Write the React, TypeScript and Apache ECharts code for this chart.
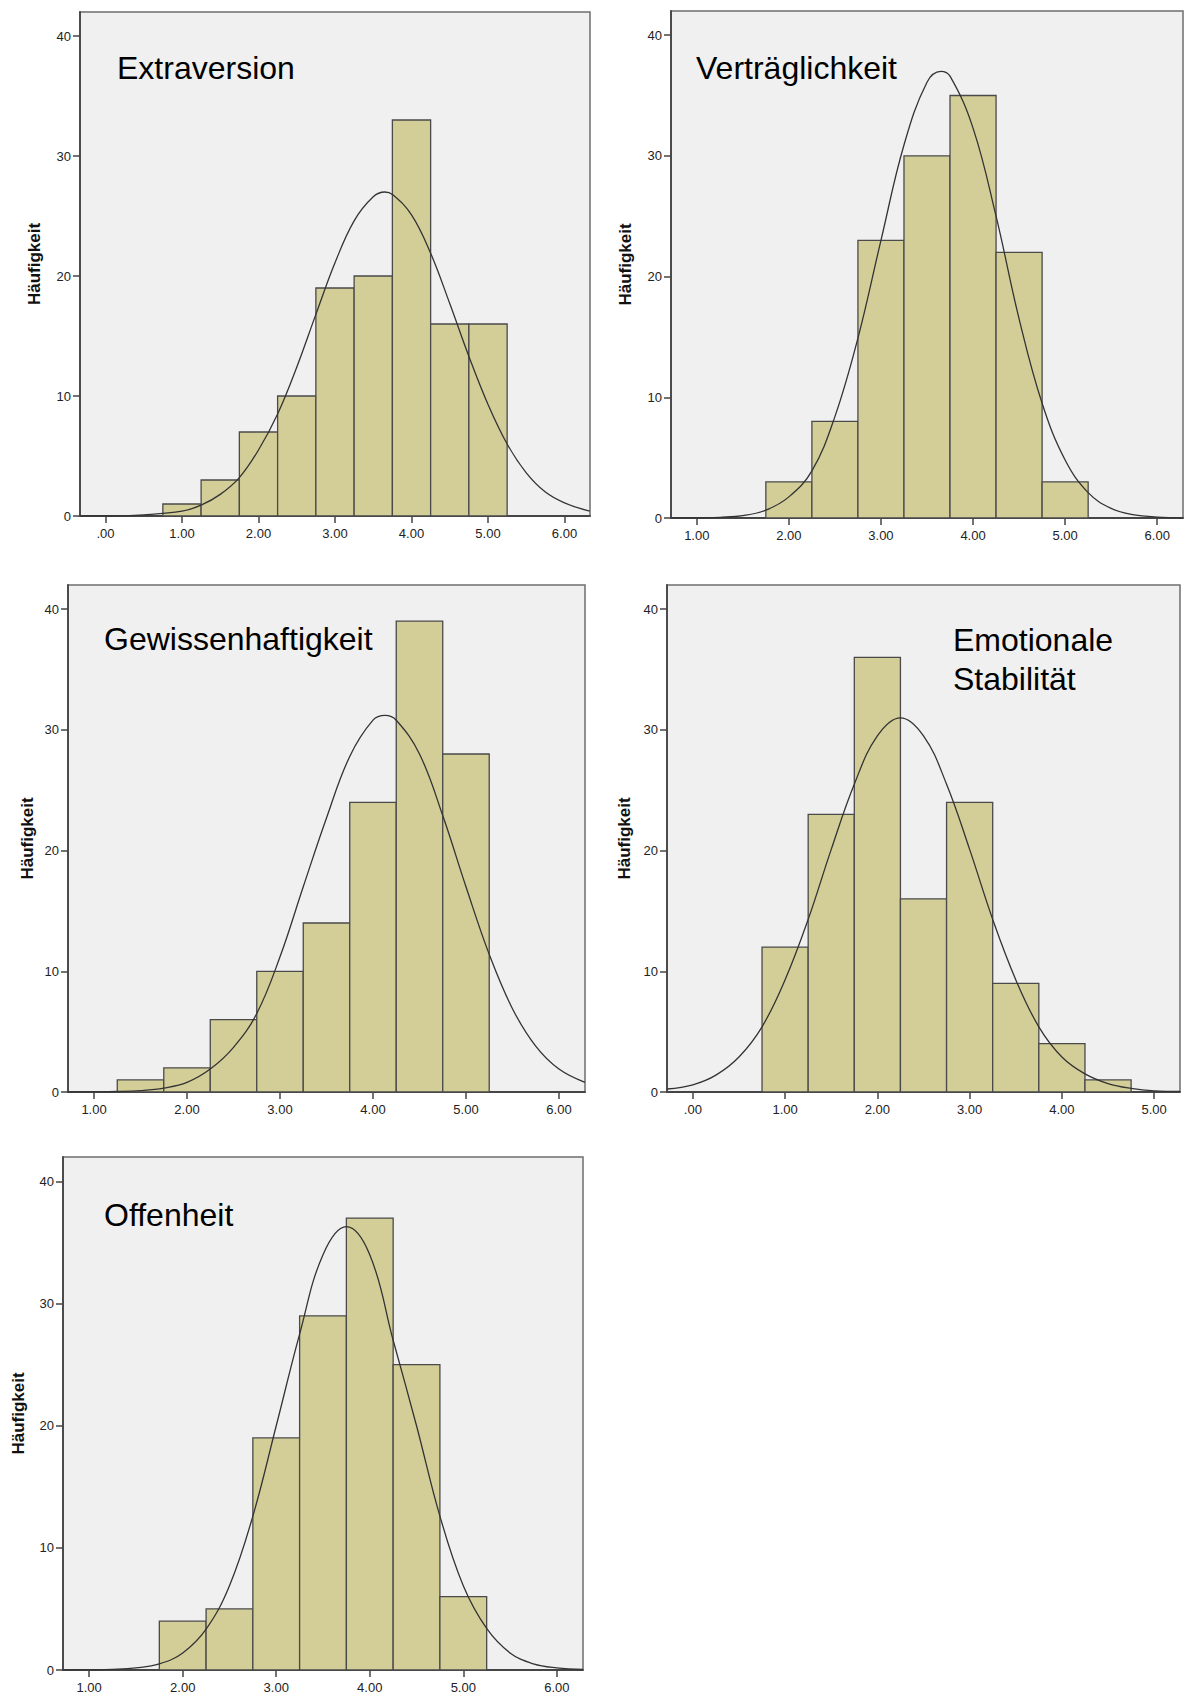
import React, { useEffect, useRef } from "react";
import * as echarts from "echarts";

// ---------- data ----------
const BIN_WIDTH = 0.5;
const Y_TICKS = [0, 10, 20, 30, 40];
const Y_LABEL = "Häufigkeit";

const titles = ["Extraversion", "Verträglichkeit", "Gewissenhaftigkeit", "Emotionale\nStabilität", "Offenheit"];

// bin centres and counts
const extraBins = [1.0, 1.5, 2.0, 2.5, 3.0, 3.5, 4.0, 4.5, 5.0];
const extraCounts = [1, 3, 7, 10, 19, 20, 33, 16, 16];
const vertBins = [2.0, 2.5, 3.0, 3.5, 4.0, 4.5, 5.0];
const vertCounts = [3, 8, 23, 30, 35, 22, 3];
const gewBins = [1.5, 2.0, 2.5, 3.0, 3.5, 4.0, 4.5, 5.0];
const gewCounts = [1, 2, 6, 10, 14, 24, 39, 28];
const emoBins = [1.0, 1.5, 2.0, 2.5, 3.0, 3.5, 4.0, 4.5];
const emoCounts = [12, 23, 36, 16, 24, 9, 4, 1];
const offBins = [2.0, 2.5, 3.0, 3.5, 4.0, 4.5, 5.0];
const offCounts = [4, 5, 19, 29, 37, 25, 6];

// normal curve points
const extraCurveX = [-0.33, 0, 0.5, 1, 1.25, 1.5, 1.75, 2, 2.25, 2.5, 2.75, 3, 3.25, 3.5, 3.65, 3.75, 4, 4.25, 4.5, 4.75, 5, 5.25, 5.5, 5.75, 6, 6.33];
const extraCurveY = [0, 0, 0.1, 0.4, 0.9, 1.8, 3.2, 5.5, 8.5, 12.4, 16.8, 21.1, 24.6, 26.6, 27, 26.8, 25.1, 21.9, 17.7, 13.3, 9.3, 6, 3.6, 2, 1.1, 0.4];
const vertCurveX = [0.72, 1, 1.25, 1.5, 1.75, 2, 2.25, 2.5, 2.75, 3, 3.25, 3.5, 3.65, 3.75, 4, 4.25, 4.5, 4.75, 5, 5.25, 5.5, 5.75, 6, 6.28];
const vertCurveY = [0, 0, 0.06, 0.2, 0.65, 1.75, 3.9, 8.4, 14.9, 23.0, 30.9, 36.1, 37, 36.6, 32.3, 25, 16.5, 9.5, 4.8, 2.1, 0.8, 0.26, 0.08, 0];
const gewCurveX = [0.72, 1, 1.25, 1.5, 1.75, 2, 2.25, 2.5, 2.75, 3, 3.25, 3.5, 3.75, 4, 4.13, 4.25, 4.5, 4.75, 5, 5.25, 5.5, 5.75, 6, 6.28];
const gewCurveY = [0, 0.01, 0.04, 0.12, 0.33, 0.8, 1.9, 3.7, 6.5, 11.2, 17.0, 22.7, 27.8, 30.8, 31.2, 30.8, 28.0, 22.9, 17.0, 11.4, 6.9, 3.8, 1.9, 0.8];
const emoCurveX = [-0.28, 0, 0.25, 0.5, 0.75, 1, 1.25, 1.5, 1.75, 2, 2.25, 2.5, 2.75, 3, 3.25, 3.5, 3.75, 4, 4.25, 4.5, 4.75, 5, 5.28];
const emoCurveY = [0.25, 0.6, 1.4, 2.9, 5.4, 9.3, 14.3, 20.1, 25.5, 29.5, 31, 29.5, 25.5, 20.1, 14.3, 9.3, 5.4, 2.9, 1.5, 0.7, 0.3, 0.1, 0.05];
const offCurveX = [0.72, 1, 1.25, 1.5, 1.75, 2, 2.25, 2.5, 2.75, 3, 3.25, 3.5, 3.75, 4, 4.25, 4.5, 4.75, 5, 5.25, 5.5, 5.75, 6, 6.28];
const offCurveY = [0, 0.01, 0.05, 0.17, 0.5, 1.4, 3.35, 6.9, 12.6, 20.0, 27.5, 34.0, 36.3, 34.0, 27, 20.0, 12.6, 6.9, 3.4, 1.4, 0.5, 0.17, 0.05];

// x axis tick values
const extraXTicks = [0, 1, 2, 3, 4, 5, 6];
const vertXTicks = [1, 2, 3, 4, 5, 6];
const gewXTicks = [1, 2, 3, 4, 5, 6];
const emoXTicks = [0, 1, 2, 3, 4, 5];
const offXTicks = [1, 2, 3, 4, 5, 6];

// ---------- styling / layout ----------
const BG = "#F0F0F0";
const BAR_FILL = "#D3CE98";
const BAR_STROKE = "#4a4a4a";
const AXIS = "#454545";
const FONT = "'Liberation Sans', Arial, sans-serif";

const panels = [
  { title: titles[0], bins: extraBins, counts: extraCounts, cx: extraCurveX, cy: extraCurveY, xTicks: extraXTicks, xMin: -0.333, xMax: 6.333,
    grid: { left: 80, top: 12, width: 510, height: 504 }, titlePos: [117, 68], yLabelX: 34 },
  { title: titles[1], bins: vertBins, counts: vertCounts, cx: vertCurveX, cy: vertCurveY, xTicks: vertXTicks, xMin: 0.72, xMax: 6.28,
    grid: { left: 671, top: 11, width: 512, height: 507 }, titlePos: [696, 68], yLabelX: 625 },
  { title: titles[2], bins: gewBins, counts: gewCounts, cx: gewCurveX, cy: gewCurveY, xTicks: gewXTicks, xMin: 0.72, xMax: 6.28,
    grid: { left: 68, top: 585, width: 517, height: 507 }, titlePos: [104, 639], yLabelX: 27 },
  { title: titles[3], bins: emoBins, counts: emoCounts, cx: emoCurveX, cy: emoCurveY, xTicks: emoXTicks, xMin: -0.28, xMax: 5.28,
    grid: { left: 667, top: 585, width: 513, height: 507 }, titlePos: [953, 639], yLabelX: 624 },
  { title: titles[4], bins: offBins, counts: offCounts, cx: offCurveX, cy: offCurveY, xTicks: offXTicks, xMin: 0.72, xMax: 6.28,
    grid: { left: 63, top: 1157, width: 520, height: 513 }, titlePos: [104, 1215], yLabelX: 18 },
];

const fmtX = (v: number) => (v === 0 ? ".00" : v.toFixed(2));

export default function App() {
  const ref = useRef<HTMLDivElement>(null);
  useEffect(() => {
    if (!ref.current) return;
    const chart = echarts.init(ref.current, null, { renderer: "svg" });

    const grids: any[] = [];
    const xAxes: any[] = [];
    const yAxes: any[] = [];
    const series: any[] = [];
    const graphics: any[] = [];

    panels.forEach((p, i) => {
      grids.push({
        ...p.grid,
        show: true,
        backgroundColor: BG,
        borderColor: "#6e6e6e",
        borderWidth: 1.5,
        containLabel: false,
      });
      xAxes.push({
        type: "value",
        gridIndex: i,
        min: p.xMin,
        max: p.xMax,
        axisLine: { show: true, onZero: false, lineStyle: { color: AXIS, width: 1.8 } },
        axisTick: { show: true, customValues: p.xTicks, length: 7, lineStyle: { color: AXIS, width: 1.5 } },
        axisLabel: { customValues: p.xTicks, formatter: (v: number) => fmtX(v), fontSize: 13, color: "#222", margin: 11, fontFamily: FONT },
        splitLine: { show: false },
      });
      yAxes.push({
        type: "value",
        gridIndex: i,
        min: 0,
        max: 42,
        name: Y_LABEL,
        nameLocation: "middle",
        nameRotate: 90,
        nameGap: p.grid.left - p.yLabelX,
        nameTextStyle: { fontSize: 17, fontWeight: "bold", color: "#111", fontFamily: FONT, verticalAlign: "middle" },
        axisLine: { show: true, onZero: false, lineStyle: { color: AXIS, width: 1.8 } },
        axisTick: { show: true, customValues: Y_TICKS, length: 7, lineStyle: { color: AXIS, width: 1.5 } },
        axisLabel: { customValues: Y_TICKS, fontSize: 13, color: "#222", margin: 9, fontFamily: FONT },
        splitLine: { show: false },
      });
      series.push({
        type: "custom",
        xAxisIndex: i,
        yAxisIndex: i,
        coordinateSystem: "cartesian2d",
        encode: { x: 0, y: 1 },
        data: p.bins.map((b, k) => [b, p.counts[k]]),
        z: 2,
        renderItem: (params: any, api: any) => {
          const x = api.value(0);
          const y = api.value(1);
          const a = api.coord([x - BIN_WIDTH / 2, y]);
          const b = api.coord([x + BIN_WIDTH / 2, 0]);
          return {
            type: "rect",
            shape: { x: a[0], y: a[1], width: b[0] - a[0], height: b[1] - a[1] },
            style: { fill: BAR_FILL, stroke: BAR_STROKE, lineWidth: 1.3 },
          };
        },
      });
      series.push({
        type: "line",
        xAxisIndex: i,
        yAxisIndex: i,
        data: p.cx.map((x, k) => [x, p.cy[k]]),
        smooth: 0.4,
        showSymbol: false,
        symbol: "none",
        lineStyle: { color: "#333", width: 1.3 },
        z: 5,
        silent: true,
      });
      graphics.push({
        type: "text",
        x: p.titlePos[0],
        y: p.titlePos[1],
        z: 10,
        style: {
          text: p.title,
          fontSize: 32,
          fontFamily: FONT,
          fill: "#000",
          verticalAlign: "middle",
          lineHeight: 39,
        },
      });
    });

    // multi-line title: first line centred on the given y
    graphics[3].style.verticalAlign = "top";
    graphics[3].y = panels[3].titlePos[1] - 19;

    chart.setOption({
      animation: false,
      grid: grids,
      xAxis: xAxes,
      yAxis: yAxes,
      series,
      graphic: graphics,
    });
    return () => chart.dispose();
  }, []);

  return <div ref={ref} style={{ position: "absolute", left: 0, top: 0, width: 1190, height: 1697, background: "#fff" }} />;
}
